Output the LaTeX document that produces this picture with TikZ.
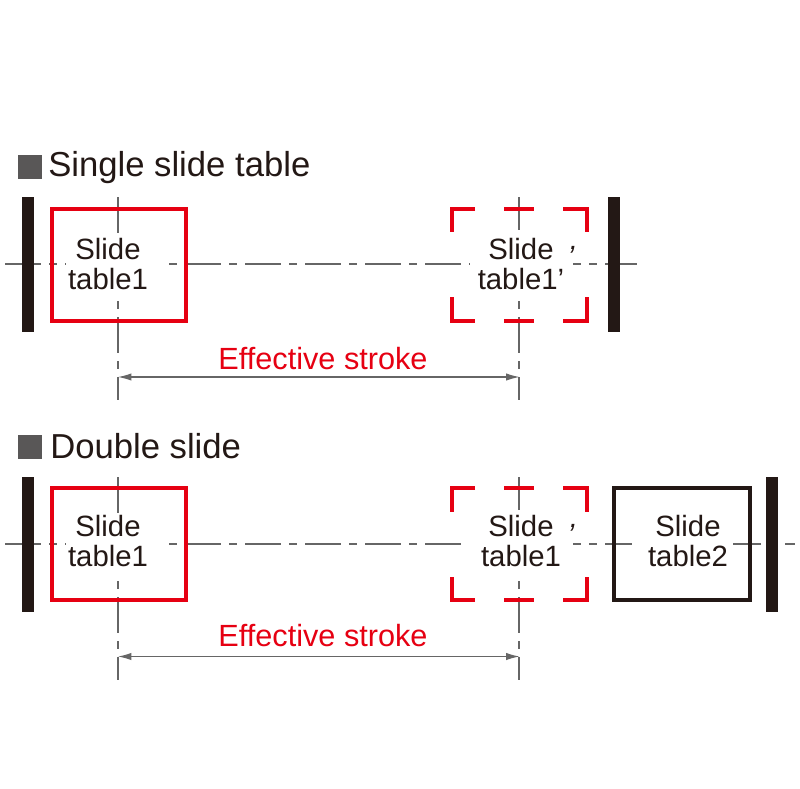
\documentclass[tikz,border=0pt]{standalone}
\usepackage{fontspec}
\setmainfont{Liberation Sans}
\usetikzlibrary{arrows.meta}
\definecolor{inkblack}{RGB}{35,24,21}
\definecolor{markgray}{RGB}{89,87,87}
\definecolor{axisgray}{RGB}{102,102,102}
\definecolor{strokered}{RGB}{230,0,18}
\tikzset{
  centerline/.style={color=axisgray,line width=0.8pt,dash pattern=on 27pt off 6pt on 6pt off 6pt},
  stopbar/.style={fill=inkblack},
  redbox/.style={draw=strokered,line width=3pt,miter limit=10},
  blackbox/.style={draw=inkblack,line width=3pt},
  strokeline/.style={color=axisgray,line width=0.9pt,{Latex[length=10pt,width=5.5pt]}-{Latex[length=10pt,width=5.5pt]}},
  titletext/.style={anchor=base west,inner sep=0pt,text=inkblack,font=\fontsize{26}{30}\selectfont},
  slidetext/.style={inner sep=0pt,align=center,text=inkblack,font=\fontsize{22}{22.5}\selectfont},
  effecttext/.style={inner sep=0pt,text=strokered,font=\fontsize{23}{26}\selectfont},
  primetext/.style={inner sep=0pt,text=inkblack,font=\fontsize{22}{22.5}\selectfont}
}
\begin{document}
\begin{tikzpicture}[x=0.75pt,y=0.75pt,yscale=-1,xscale=1]
\useasboundingbox (0,0) rectangle (800,789);

%Center Lines
\draw [centerline] (5,264) -- (637,264) ;
\draw [centerline] (118,197) -- (118,400) ;
\draw [centerline] (519,197) -- (519,400) ;
\draw [centerline] (5,544) -- (795,544) ;
\draw [centerline] (118,477) -- (118,680) ;
\draw [centerline] (519,477) -- (519,680) ;

%Shape: Stop Bars
\fill [stopbar] (22.3,197.3) rectangle (34.3,332.3) ;
\fill [stopbar] (608,197.3) rectangle (620.3,332.3) ;
\fill [stopbar] (22.3,476.5) rectangle (34.3,611.5) ;
\fill [stopbar] (766,477) rectangle (778,611.7) ;

%Shape: Title Marks
\fill [markgray] (17.5,154.5) rectangle (41.5,178.5) ;
\fill [markgray] (17.5,434.5) rectangle (41.5,458.5) ;

%Shape: Slide Tables
\draw [redbox] (51.5,209) rectangle (185.5,320.5) ;
\draw [redbox] (51.5,488) rectangle (185.5,600) ;
\draw [blackbox] (614.3,488) rectangle (749.7,600) ;

%Shape: Moved Table, upper
\draw [redbox] (475,208.5) -- (451.5,208.5) -- (451.5,232) ;
\draw [redbox] (504,208.5) -- (534,208.5) ;
\draw [redbox] (563,208.5) -- (586.5,208.5) -- (586.5,232) ;
\draw [redbox] (475,320.5) -- (451.5,320.5) -- (451.5,297) ;
\draw [redbox] (504,320.5) -- (534,320.5) ;
\draw [redbox] (563,320.5) -- (586.5,320.5) -- (586.5,297) ;

%Shape: Moved Table, lower
\draw [redbox] (475,488) -- (451.5,488) -- (451.5,511.5) ;
\draw [redbox] (504,488) -- (534,488) ;
\draw [redbox] (563,488) -- (586.5,488) -- (586.5,511.5) ;
\draw [redbox] (475,600) -- (451.5,600) -- (451.5,576.5) ;
\draw [redbox] (504,600) -- (534,600) ;
\draw [redbox] (563,600) -- (586.5,600) -- (586.5,576.5) ;

%Text Backgrounds
\fill [white] (66,234) rectangle (165,298) ;
\fill [white] (470,230) rectangle (573,300) ;
\fill [white] (66,514) rectangle (165,578) ;
\fill [white] (468,510) rectangle (573,578) ;
\fill [white] (632,514) rectangle (733,578) ;

%Straight Lines
\coordinate (strokeUpperL) at (118,377) ;
\coordinate (strokeUpperR) at (519.5,377) ;
\coordinate (strokeLowerL) at (118,656.5) ;
\coordinate (strokeLowerR) at (519.5,656.5) ;
\draw [strokeline] (strokeUpperL) -- (strokeUpperR) ;
\draw [strokeline] (strokeLowerL) -- (strokeLowerR) ;

% Text Node
\node (titleSingle) at (48,176) [titletext] {Single slide table};
% Text Node
\node (titleDouble) at (50,458) [titletext] {Double slide};
% Text Node
\node (tableUpperA) at (108,264) [slidetext] {Slide\\table1};
% Text Node
\node (tableUpperB) at (521,264) [slidetext] {Slide\\table1’};
% Text Node
\node (primeUpper) at (574,250) [primetext] {\itshape ,};
% Text Node
\node (tableLowerA) at (108,541) [slidetext] {Slide\\table1};
% Text Node
\node (tableLowerB) at (521,541) [slidetext] {Slide\\table1};
% Text Node
\node (primeLower) at (574,528) [primetext] {\itshape ,};
% Text Node
\node (tableLowerC) at (688,541) [slidetext] {Slide\\table2};
% Text Node
\node (effectUpper) at (323,359) [effecttext] {Effective stroke};
% Text Node
\node (effectLower) at (323,636) [effecttext] {Effective stroke};

\end{tikzpicture}
\end{document}
